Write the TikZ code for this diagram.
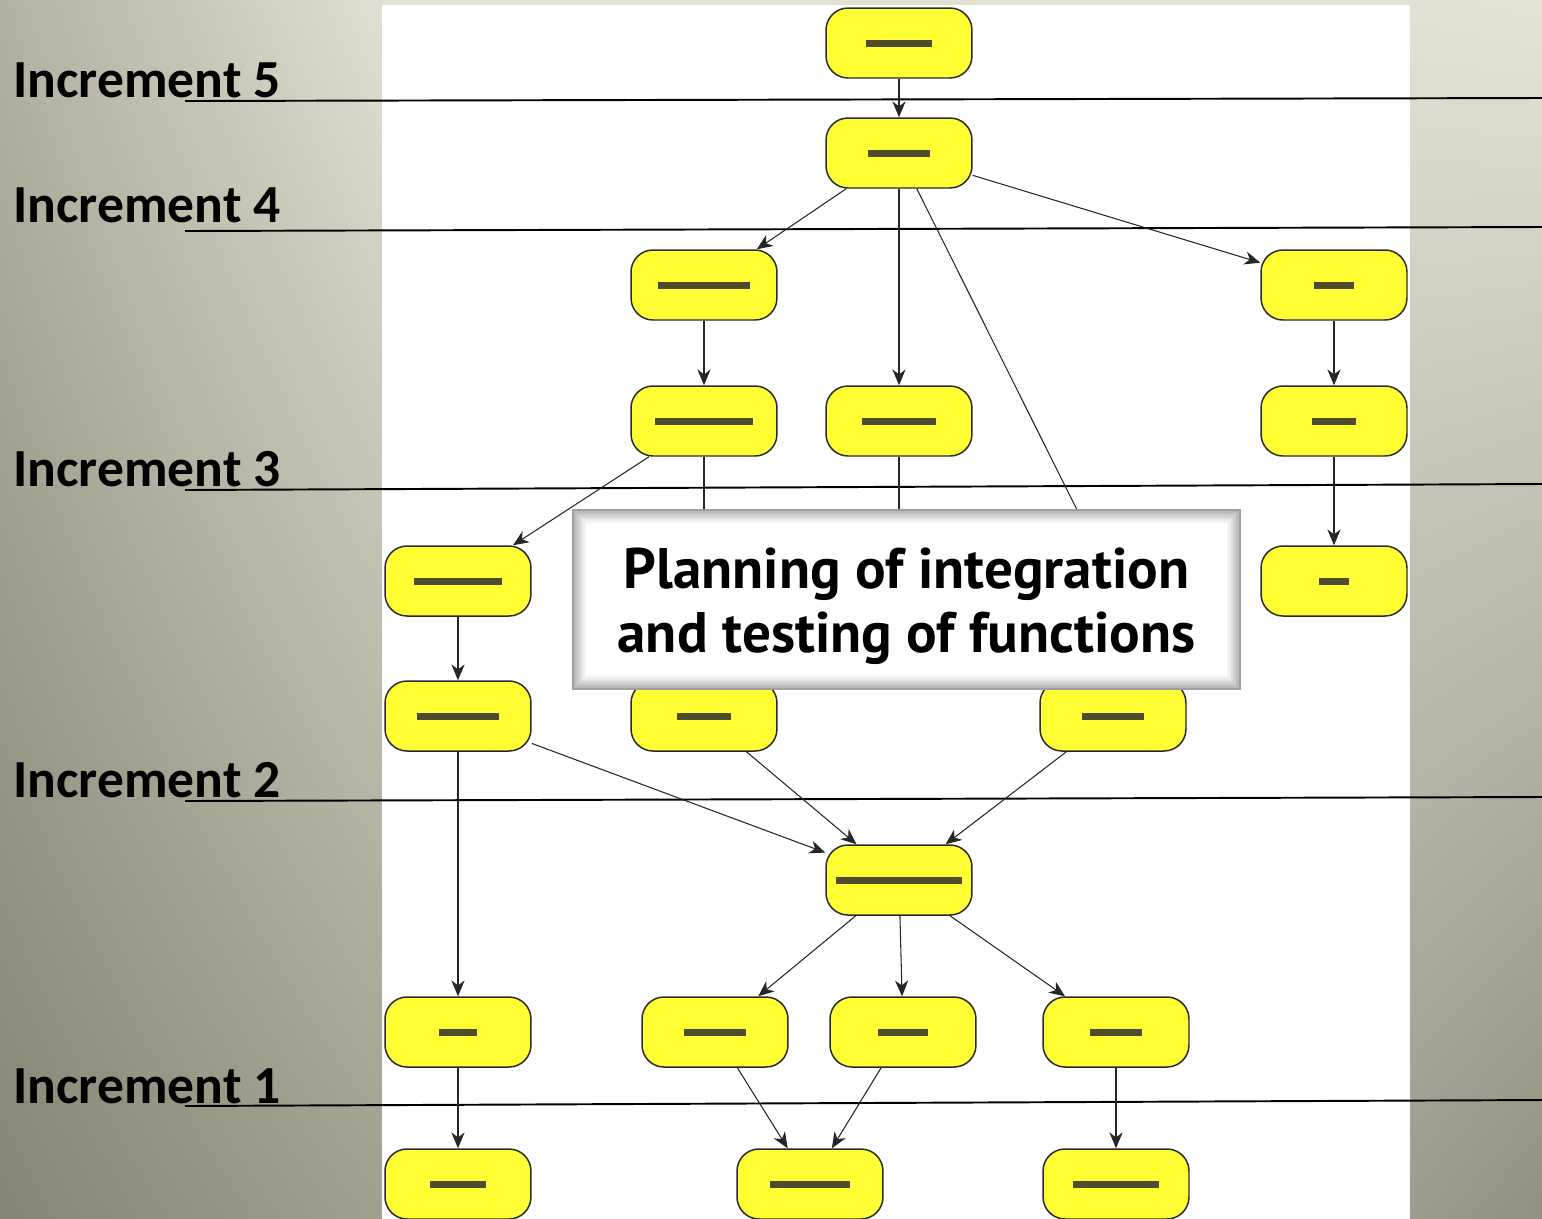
\documentclass[tikz,border=0pt]{standalone}
\usepackage{fontspec}
\setmainfont{Carlito}
\newfontfamily\callfont{PT Sans}
\usetikzlibrary{arrows.meta,shadings}
\definecolor{boxfill}{HTML}{FFFF33}
\definecolor{boxline}{HTML}{2A2A2A}
\definecolor{greekc}{HTML}{4E4C2C}
\definecolor{bgTL}{HTML}{B4B1A1}
\definecolor{bgTR}{HTML}{E2DFD0}
\definecolor{bgBL}{HTML}{878474}
\definecolor{bgBR}{HTML}{A29F8F}
\definecolor{rgTL}{HTML}{E4E1D2}
\definecolor{rgTR}{HTML}{E6E3D5}
\definecolor{rgBL}{HTML}{9E9B8C}
\definecolor{rgBR}{HTML}{939080}
\begin{document}
\begin{tikzpicture}[x=0.02cm,y=-0.02cm,
  box/.style={draw=boxline, fill=boxfill, line width=0.85pt, rounded corners=0.44cm,
    minimum width=2.92cm, minimum height=1.4cm, inner sep=0pt,
    path picture={\fill[greekc, sharp corners] ([xshift=-#1*0.01cm,yshift=-0.07cm]path picture bounding box.center) rectangle ([xshift=#1*0.01cm,yshift=0.07cm]path picture bounding box.center);}},
  conn/.style={draw=black!85, line width=0.6pt, -{Stealth[length=9pt,width=7.5pt,inset=2.8pt]}},
  plainconn/.style={draw=black!85, line width=0.6pt},
  incline/.style={draw=black, line width=1.1pt},
  inclabel/.style={anchor=base west, inner sep=0pt, font=\fontsize{30.5}{36}\selectfont\bfseries},
  callout/.style={draw=gray!75, line width=0.8pt, minimum width=13.34cm, minimum height=3.58cm,
    inner sep=0pt,
    path picture={
      \fill[gray!60] (path picture bounding box.south west) rectangle (path picture bounding box.north east);
      \foreach \i in {1,...,10}{
        \pgfmathsetmacro\c{60-6*\i}
        \fill[gray!\c] ([shift={(\i*0.026cm,\i*0.026cm)}]path picture bounding box.south west) rectangle ([shift={(-\i*0.026cm,-\i*0.026cm)}]path picture bounding box.north east);
      }}},
  calltext/.style={inner sep=0pt, align=center, font=\callfont\fontsize{32.5}{36.4}\selectfont\bfseries}
]
\useasboundingbox (0,0) rectangle (1542,1218);
% background
\shade[upper left=bgTL, upper right=bgTR, lower left=bgBL, lower right=bgBR] (0,0) rectangle (382,1218);
\shade[upper left=rgTL, upper right=rgTR, lower left=rgBL, lower right=rgBR] (1410,0) rectangle (1542,1218);
\fill[rgTL] (382,0) rectangle (1410,5);
\fill[white] (382,5) rectangle (1410,1218);
% increment lines
\coordinate (l5a) at (185,101); \coordinate (l5b) at (1542,98);
\coordinate (l4a) at (185,231); \coordinate (l4b) at (1542,227);
\coordinate (l3a) at (185,490); \coordinate (l3b) at (1542,484);
\coordinate (l2a) at (185,801); \coordinate (l2b) at (1542,797);
\coordinate (l1a) at (185,1106); \coordinate (l1b) at (1542,1100);
\draw[incline] (l5a) -- (l5b);
\draw[incline] (l4a) -- (l4b);
\draw[incline] (l3a) -- (l3b);
\draw[incline] (l2a) -- (l2b);
\draw[incline] (l1a) -- (l1b);
\node[inclabel] (i5) at (13,97) {Increment 5};
\node[inclabel] (i4) at (13,222) {Increment 4};
\node[inclabel] (i3) at (13,486) {Increment 3};
\node[inclabel] (i2) at (13,797) {Increment 2};
\node[inclabel] (i1) at (13,1103) {Increment 1};
% nodes
\node[box=66] (n1) at (899,43) {};
\node[box=62] (n2) at (899,153) {};
\node[box=92] (n3) at (704,285) {};
\node[box=40] (n4) at (1334,285) {};
\node[box=98] (n5) at (704,421) {};
\node[box=74] (n6) at (899,421) {};
\node[box=44] (n7) at (1334,421) {};
\node[box=88] (n8) at (458,581) {};
\node[box=30] (n9) at (1334,581) {};
\node[box=82] (n10) at (458,716) {};
\node[box=54] (n11) at (704,716) {};
\node[box=62] (n12) at (1113,716) {};
\node[box=126] (n13) at (899,880) {};
\node[box=38] (n14) at (458,1032) {};
\node[box=62] (n15) at (715,1032) {};
\node[box=50] (n16) at (903,1032) {};
\node[box=52] (n17) at (1116,1032) {};
\node[box=56] (n18) at (458,1184) {};
\node[box=80] (n19) at (810,1184) {};
\node[box=86] (n20) at (1116,1184) {};
\coordinate (h2) at (1122,600);
\coordinate (h5) at (704,600);
\coordinate (h6) at (899,600);
% connectors
\draw[conn] (n1) -- (n2);
\draw[conn] (n2) -- (n3);
\draw[conn] (n2) -- (n6);
\draw[conn] (n2) -- (n4);
\draw[plainconn] (n2) -- (h2);
\draw[conn] (n3) -- (n5);
\draw[conn] (n5) -- (n8);
\draw[plainconn] (n5) -- (h5);
\draw[plainconn] (n6) -- (h6);
\draw[conn] (n4) -- (n7);
\draw[conn] (n7) -- (n9);
\draw[conn] (n8) -- (n10);
\draw[conn] (n10) -- (n13);
\draw[conn] (n11) -- (n13);
\draw[conn] (n12) -- (n13);
\draw[conn] (n10) -- (n14);
\draw[conn] (n13) -- (n15);
\draw[conn] (n13) -- (n16);
\draw[conn] (n13) -- (n17);
\draw[conn] (n14) -- (n18);
\draw[conn] (n15) -- (n19);
\draw[conn] (n16) -- (n19);
\draw[conn] (n17) -- (n20);
% callout
\node[callout] (call) at (906.5,599.5) {};
\node[calltext] (calltxt) at (906.5,606) {Planning of integration\\and testing of functions};
\end{tikzpicture}
\end{document}
